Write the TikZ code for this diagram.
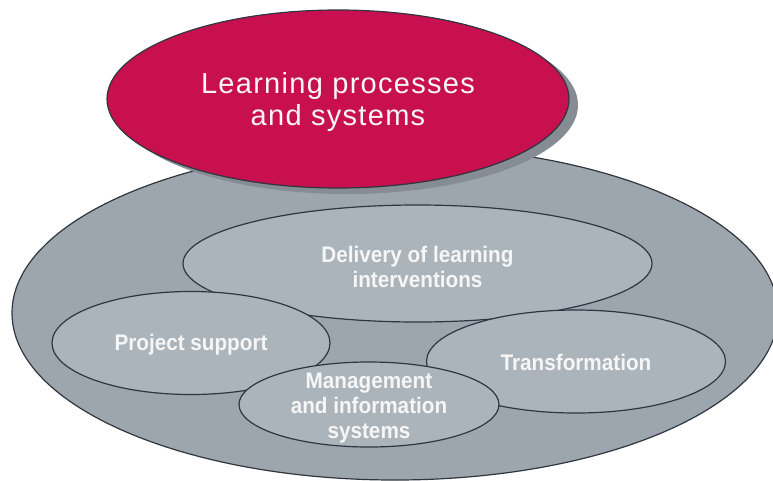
\documentclass[tikz,border=0pt]{standalone}
\usepackage{fontspec}
\setmainfont{Liberation Sans}
\newfontfamily\titlefont[LetterSpace=4.5]{Liberation Sans}
\newfontfamily\areafont[FakeStretch=0.92]{Liberation Sans}
\usetikzlibrary{shapes.geometric,shadows}

\definecolor{edgecol}{HTML}{2F3640}
\definecolor{basegray}{HTML}{9DA5AD}
\definecolor{areagray}{HTML}{ACB4BB}
\definecolor{titlered}{HTML}{C8104E}
\definecolor{shadowgray}{HTML}{868C93}
\definecolor{labelwhite}{HTML}{F6F6F6}

\tikzset{
  zone/.style={ellipse, draw=edgecol, line width=1.2pt, inner sep=0pt},
  areatext/.style={align=center, text=labelwhite, inner sep=0pt,
    font=\areafont\bfseries\fontsize{22.5}{25}\selectfont},
  titletext/.style={align=center, text=labelwhite, inner sep=0pt,
    font=\titlefont\fontsize{29}{32}\selectfont},
  area/.style={zone, fill=areagray},
  headline/.style={zone, fill=titlered,
    drop shadow={shadow xshift=9pt, shadow yshift=-6pt,
      fill=shadowgray, opacity=1}}
}

\begin{document}
\begin{tikzpicture}[x=1pt,y=-1pt]
  \useasboundingbox (0,0) rectangle (773,480);
  \fill[white] (0,0) rectangle (773,480);

  % outer field holding the four areas
  \node[zone, fill=basegray, minimum width=766pt, minimum height=334pt]
    (base) at (395,313) {};

  % the four areas, back to front
  \node[area, minimum width=469pt, minimum height=117pt,
    label={[areatext, yshift=-3pt]center:Delivery of learning\\interventions}]
    (delivery) at (417.5,263.5) {};
  \node[area, minimum width=278pt, minimum height=103pt,
    label={[areatext, yshift=-2pt]center:Project support}]
    (project) at (191,343) {};
  \node[area, minimum width=299pt, minimum height=103pt,
    label={[areatext, yshift=-1pt]center:Transformation}]
    (transform) at (576,361.5) {};
  \node[area, minimum width=260pt, minimum height=85pt,
    label={[areatext, yshift=-4pt]center:Management\\and information\\systems}]
    (mis) at (369,404.5) {};

  % heading ellipse on top
  \node[headline, minimum width=462pt, minimum height=178pt,
    label={[titletext, yshift=-3pt]center:Learning processes\\and systems}]
    (heading) at (338,99) {};
\end{tikzpicture}
\end{document}
